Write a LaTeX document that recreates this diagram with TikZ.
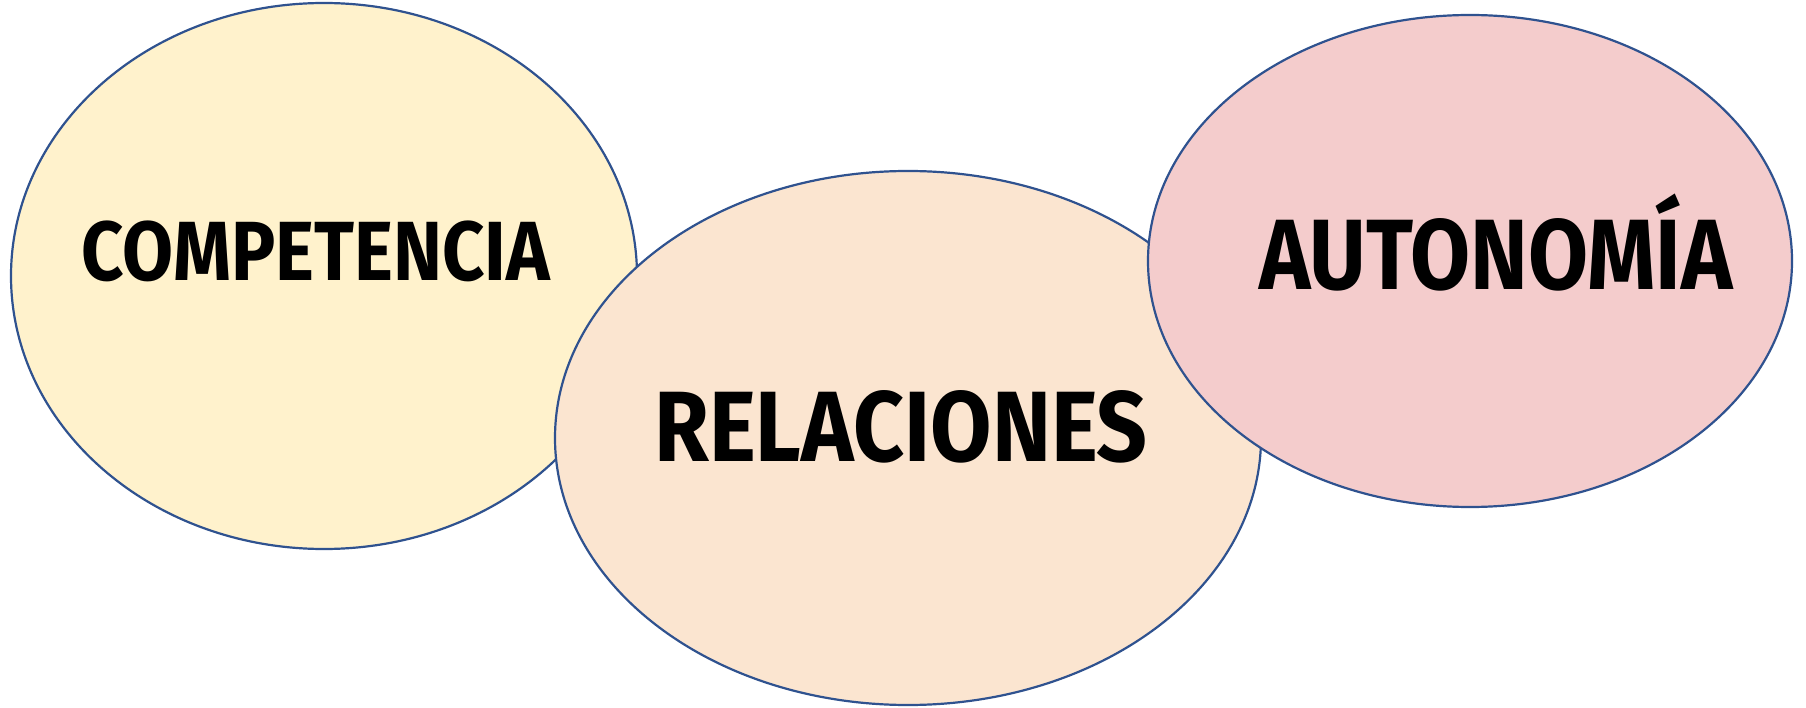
\documentclass[tikz,border=0pt]{standalone}
\usepackage{fontspec}
\usetikzlibrary{shapes.geometric}
\newfontfamily\bubblefont{Fira Sans}
\definecolor{rimblue}{HTML}{2F528F}
\definecolor{compyellow}{HTML}{FFF2CC}
\definecolor{relpeach}{HTML}{FBE5D0}
\definecolor{autpink}{HTML}{F4CCCC}
\newcommand{\bubbletext}[2]{\scalebox{#1}[1]{\bubblefont\bfseries #2}}

\begin{document}
\begin{tikzpicture}
            [
                x=1pt, y=-1pt,
                bubble/.style={ellipse, draw=rimblue, line width=2.2pt, inner sep=0pt},
                word/.style={font=\fontsize{84}{90}\selectfont, inner sep=0pt}
            ]
            \useasboundingbox (0,0) rectangle (1806,708);
            % the three overlapping ellipses
            \node[bubble, fill=compyellow, minimum width=626pt, minimum height=546pt] (comp) at (324,276) {};
            \node[bubble, fill=relpeach, minimum width=706pt, minimum height=534pt] (rel) at (908,438) {};
            \node[bubble, fill=autpink, minimum width=644pt, minimum height=492pt] (aut) at (1470,261) {};
            % labels
            \node[word] (compword) at (316,251) {\bubbletext{0.88}{COMPETENCIA}};
            \node[word, font=\fontsize{100}{110}\selectfont] (relword) at (901,427) {\bubbletext{0.89}{RELACIONES}};
            \node[word, font=\fontsize{100}{110}\selectfont] (autword) at (1496,243) {\bubbletext{0.87}{AUTONOMÍA}};
        \end{tikzpicture}
\end{document}
